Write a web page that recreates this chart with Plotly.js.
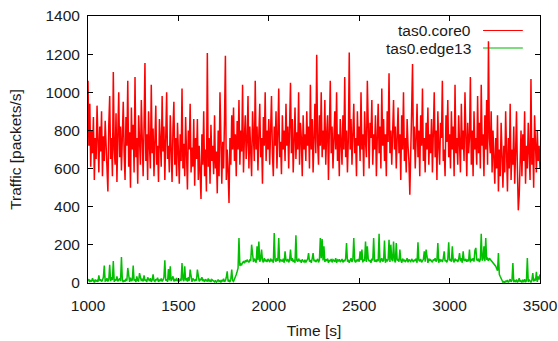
<!DOCTYPE html>
<html>
<head>
<meta charset="utf-8">
<script src="https://cdn.plot.ly/plotly-3.0.1.min.js"></script>
<style>html,body{margin:0;padding:0;background:#fff;}#chart{width:558px;height:341px;}</style>
</head>
<body>
<div id="chart"></div>
<script>
// Time axis: one sample every 5 s from 1000 s to 3500 s
const tStart = 1000;
const tStep = 5;

// tas0.core0 traffic [packets/s], rows of 20 samples (100 s each)
const core0 = [
1060,720,940,610,800,680,870,540,760,650,930,700,580,820,690,900,560,770,640,850,
720,600,480,830,980,650,760,560,1106,700,620,890,530,780,1000,660,820,590,740,950,
680,540,870,720,1060,610,790,500,920,700,830,580,1080,660,760,520,880,740,620,960,
700,560,820,1154,640,780,540,900,720,600,1040,680,810,560,750,930,620,720,530,860,
740,610,980,690,820,540,760,1000,650,720,580,880,700,530,810,950,620,760,560,840,
690,520,780,640,1020,600,730,560,870,660,490,800,700,940,580,710,610,860,510,760,
650,860,540,720,590,440,780,620,900,560,700,480,1206,610,760,520,830,640,720,570,
880,600,690,470,800,560,1000,640,520,740,600,860,1192,540,700,580,420,760,620,880,
700,920,640,780,560,850,700,960,620,800,690,1040,580,760,880,650,740,980,600,820,
720,560,900,760,640,1060,700,820,590,780,940,660,760,520,870,720,1000,640,800,700,
860,620,760,980,680,560,820,720,900,600,780,1020,660,740,570,880,700,800,640,940,
720,820,600,760,1050,680,860,580,740,920,650,790,700,1000,620,840,760,560,880,700,
780,640,900,720,820,600,1040,700,860,580,760,940,680,1197,740,620,880,720,1000,660,
800,700,960,620,780,880,540,760,1060,680,820,600,740,900,700,1000,640,780,560,860,
740,620,880,700,1080,660,800,580,760,1209,700,860,620,780,940,680,760,560,900,720,
820,640,1000,700,780,560,900,740,660,1060,720,600,840,760,960,620,780,700,880,560,
760,940,680,820,600,1020,720,860,640,780,560,900,740,1100,680,800,620,760,960,700,
820,600,740,920,680,780,540,880,700,1000,640,760,580,860,720,640,463,780,900,1148,
700,820,600,760,940,660,800,560,880,720,1020,640,760,580,840,700,920,620,780,680,
860,580,740,1000,660,800,540,900,720,620,840,760,1060,640,700,560,880,740,960,660,
780,600,900,700,820,560,1040,680,760,620,880,720,580,940,700,800,640,1000,720,560,
840,680,760,1080,620,800,560,900,700,760,620,980,680,840,600,1040,720,780,560,880,
700,960,620,1267,760,680,900,580,800,640,520,760,600,880,480,700,560,840,620,500,
720,580,900,640,480,760,600,940,540,700,620,820,520,680,900,600,381,460,660,800,
560,780,640,900,520,720,600,840,680,540,1070,620,760,500,880,660,580,800,640,720,
600
];

// tas0.edge13 traffic [packets/s], rows of 20 samples (100 s each)
const edge13 = [
10,20,5,15,8,25,12,3,18,10,14,6,40,12,20,8,15,30,91,10,
12,25,8,18,96,10,30,15,115,6,20,12,35,8,18,24,10,136,14,5,
15,8,22,12,79,18,6,28,10,16,91,12,20,5,35,14,8,52,18,10,
22,8,40,12,18,5,30,14,10,25,6,16,45,12,8,20,14,28,6,18,
10,24,8,16,30,119,12,20,6,73,14,87,10,22,35,8,18,12,26,10,
16,8,22,12,105,18,10,87,14,25,8,30,12,70,18,6,24,14,10,20,
12,70,18,8,22,14,30,10,16,6,20,12,8,24,10,15,5,18,12,8,
6,14,4,10,18,8,12,3,16,8,22,6,12,30,61,8,14,5,20,70,
12,8,18,30,45,60,78,236,90,100,96,108,112,104,118,110,122,114,108,120,
116,201,124,110,128,118,106,192,120,218,112,126,175,118,108,130,114,122,110,126,
118,110,128,114,122,106,262,120,112,130,116,236,108,124,118,112,128,106,166,120,
114,126,108,120,175,116,130,110,122,106,250,118,112,128,114,120,106,124,116,110,
122,108,118,126,157,112,120,106,128,157,114,122,110,118,126,108,120,236,130,231,
118,192,110,124,116,128,106,120,114,126,108,122,118,112,130,106,120,116,124,110,
116,126,108,120,114,128,210,112,122,106,118,130,110,124,236,116,108,122,114,126,
112,166,120,175,108,124,116,218,110,192,126,114,120,106,128,118,236,112,122,110,
124,114,258,108,120,130,112,118,223,106,126,116,122,227,110,201,124,114,218,120,
108,210,118,126,112,175,120,106,128,114,122,110,118,130,108,124,116,112,126,118,
110,122,116,128,106,213,120,114,126,108,118,124,166,112,175,120,106,128,116,122,
114,108,124,118,130,112,120,210,106,126,116,122,110,128,166,114,120,108,124,213,
118,126,112,192,120,108,128,116,122,110,124,157,114,130,106,166,120,118,126,112,
120,114,175,108,126,118,130,112,171,184,122,116,128,110,124,258,118,126,192,114,
236,122,128,116,130,124,118,112,108,104,96,88,76,64,157,46,34,20,10,4,
8,2,12,5,16,3,10,20,6,14,105,4,12,8,18,3,10,25,6,12,
5,14,8,20,4,12,131,6,18,10,3,15,52,8,22,12,59,6,35,18,
45
];

const seriesNames = ['tas0.core0', 'tas0.edge13'];
const xTickVals = [1000, 1500, 2000, 2500, 3000, 3500];
const yTickVals = [0, 200, 400, 600, 800, 1000, 1200, 1400];

const times = core0.map((_, i) => tStart + i * tStep);

const FONT = 'Liberation Sans, Arial, Helvetica, sans-serif';
const FS = 15.5;
const TXT = '#1a1a1a';

const traces = [
  {x: times, y: edge13, type: 'scatter', mode: 'lines', name: seriesNames[1],
   line: {color: '#00c000', width: 1.5}, hoverinfo: 'skip'},
  {x: times, y: core0, type: 'scatter', mode: 'lines', name: seriesNames[0],
   line: {color: '#ff0000', width: 1.5}, hoverinfo: 'skip'}
];

const axisCommon = {
  showline: true, linecolor: '#000', linewidth: 1, mirror: 'ticks',
  ticks: 'inside', ticklen: 5, tickwidth: 1, tickcolor: '#000',
  showgrid: false, zeroline: false,
  tickfont: {family: FONT, size: FS, color: TXT}
};

const layout = {
  width: 558, height: 341,
  margin: {l: 88, r: 18, t: 16, b: 58},
  paper_bgcolor: '#fff', plot_bgcolor: '#fff',
  showlegend: false,
  font: {family: FONT, size: FS, color: TXT},
  xaxis: Object.assign({}, axisCommon, {
    range: [1000, 3500], tickvals: xTickVals, ticktext: xTickVals.map(String),
    ticklabelstandoff: 8,
    title: {text: 'Time [s]', font: {family: FONT, size: FS, color: TXT}, standoff: 12}
  }),
  yaxis: Object.assign({}, axisCommon, {
    range: [0, 1400], tickvals: yTickVals, ticktext: yTickVals.map(String),
    ticklabelstandoff: 4,
    title: {text: 'Traffic [packets/s]', font: {family: FONT, size: FS, color: TXT}, standoff: 19}
  }),
  annotations: [
    {xref: 'paper', yref: 'paper', x: 0.852, y: 0.9457, xanchor: 'right', yanchor: 'middle',
     text: seriesNames[0], showarrow: false, font: {family: FONT, size: FS, color: TXT}},
    {xref: 'paper', yref: 'paper', x: 0.852, y: 0.880, xanchor: 'right', yanchor: 'middle',
     text: seriesNames[1], showarrow: false, font: {family: FONT, size: FS, color: TXT}}
  ],
  shapes: [
    {type: 'line', xref: 'paper', yref: 'paper', x0: 0.874, x1: 0.962, y0: 0.9457, y1: 0.9457,
     line: {color: '#ff0000', width: 1}, layer: 'below'},
    {type: 'line', xref: 'paper', yref: 'paper', x0: 0.874, x1: 0.962, y0: 0.880, y1: 0.880,
     line: {color: '#7ddc7d', width: 2}, layer: 'below'}
  ]
};

Plotly.newPlot('chart', traces, layout, {staticPlot: true, displayModeBar: false});
</script>
</body>
</html>
